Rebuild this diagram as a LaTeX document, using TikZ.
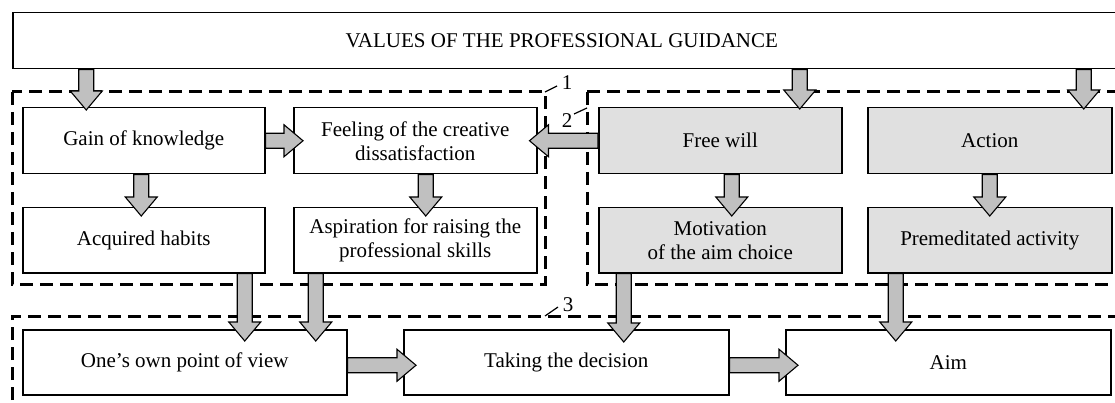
\documentclass[tikz,border=0pt]{standalone}
\usepackage{fontspec}
\setmainfont{Liberation Serif}
\usetikzlibrary{calc}
\definecolor{arrgray}{HTML}{C0C0C0}
\definecolor{boxgray}{HTML}{E0E0E0}
\tikzset{
  blockarr/.style={draw=black, fill=arrgray, line width=1.1pt, line join=miter},
  wbox/.style={draw=black, line width=1.5pt, anchor=north west, inner sep=0pt, align=center,
    font=\fontsize{21}{24}\selectfont},
  gbox/.style={wbox, fill=boxgray},
  dbox/.style={draw=black, line width=3pt, dash pattern=on 13pt off 7pt},
  leader/.style={draw=black, line width=1.2pt},
  numlab/.style={inner sep=0pt, font=\fontsize{21}{24}\selectfont}
}
\newcommand{\barrdown}[2]{\path[blockarr] let \p1=#1, \p2=#2 in
  (\x1-7.5pt,\y1) -- (\x1+7.5pt,\y1) -- (\x1+7.5pt,\y2+19pt) -- (\x1+16pt,\y2+19pt) --
  (\x1,\y2) -- (\x1-16pt,\y2+19pt) -- (\x1-7.5pt,\y2+19pt) -- cycle;}
\newcommand{\barrright}[2]{\path[blockarr] let \p1=#1, \p2=#2 in
  (\x1,\y1+7.5pt) -- (\x2-19pt,\y1+7.5pt) -- (\x2-19pt,\y1+16pt) -- (\x2,\y1) --
  (\x2-19pt,\y1-16pt) -- (\x2-19pt,\y1-7.5pt) -- (\x1,\y1-7.5pt) -- cycle;}
\newcommand{\barrleft}[2]{\path[blockarr] let \p1=#1, \p2=#2 in
  (\x1,\y1+7.5pt) -- (\x2+19pt,\y1+7.5pt) -- (\x2+19pt,\y1+16pt) -- (\x2,\y1) --
  (\x2+19pt,\y1-16pt) -- (\x2+19pt,\y1-7.5pt) -- (\x1,\y1-7.5pt) -- cycle;}
\begin{document}
\begin{tikzpicture}[x=1pt,y=-1pt]
\clip (0,0) rectangle (1115,403);
\fill[white] (0,0) rectangle (1115,403);
% dashed groups
\draw[dbox] (12,92) rectangle (545,284);
\draw[dbox] (587,92) -- (1140,92) (587,92) -- (587,284) -- (1140,284);
\draw[dbox] (12,420) -- (12,316) -- (1140,316);
% group labels
\coordinate (c1) at (545,92);
\coordinate (c2) at (587,108);
\coordinate (c3) at (545,316);
\node[numlab] (l1) at (567,83) {1};
\node[numlab] (l2) at (567,121) {2};
\node[numlab] (l3) at (568,305) {3};
\draw[leader] (c1) -- (557,86);
\draw[leader] (c2) -- (574,114);
\draw[leader] (c3) -- (558,307);
% nodes
\node[wbox, minimum width=1118pt, minimum height=56pt] (top) at (12,12) {\hspace*{-20pt}VALUES OF THE PROFESSIONAL GUIDANCE};
\node[wbox, minimum width=242pt, minimum height=66pt] (gain) at (22,107) {Gain of knowledge};
\node[wbox, minimum width=243pt, minimum height=66pt] (feel) at (293,107) {Feeling of the creative\\dissatisfaction};
\node[gbox, minimum width=243pt, minimum height=66pt] (free) at (598,107) {Free will};
\node[gbox, minimum width=244pt, minimum height=66pt] (action) at (867,107) {Action};
\node[wbox, minimum width=242pt, minimum height=65pt] (acq) at (22,207) {Acquired habits};
\node[wbox, minimum width=243pt, minimum height=65pt] (asp) at (293,207) {Aspiration for raising the\\professional skills};
\node[gbox, minimum width=243pt, minimum height=65pt] (mot) at (598,207) {Motivation\\of the aim choice};
\node[gbox, minimum width=244pt, minimum height=65pt] (prem) at (867,207) {Premeditated activity};
\node[wbox, minimum width=324pt, minimum height=65pt] (own) at (22,329) {One’s own point of view};
\node[wbox, minimum width=325pt, minimum height=65pt] (take) at (403,329) {Taking the decision};
\node[wbox, minimum width=325pt, minimum height=65pt] (aim) at (785,329) {Aim};
% arrows
\barrdown{($(top.south -| gain.north)+(-57.5,0)$)}{($(gain.north)+(0,3)$)}
\barrdown{($(top.south -| free.north)+(79.5,0)$)}{($(free.north)+(0,2)$)}
\barrdown{($(top.south -| action.north)+(94,0)$)}{($(action.north)+(0,2)$)}
\barrdown{($(gain.south)+(-2.5,0)$)}{($(acq.north)+(0,9)$)}
\barrdown{($(feel.south)+(10.5,0)$)}{($(asp.north)+(0,9)$)}
\barrdown{($(free.south)+(11.5,0)$)}{($(mot.north)+(0,9)$)}
\barrdown{(action.south)}{($(prem.north)+(0,9)$)}
\barrright{(gain.east)}{($(feel.west)+(10,0)$)}
\barrleft{(free.west)}{($(feel.east)+(-8,0)$)}
\barrdown{($(acq.south)+(101,0)$)}{($(own.north)+(0,12)$)}
\barrdown{($(asp.south)+(-99.5,0)$)}{($(own.north)+(0,12)$)}
\barrdown{($(mot.south)+(-96.5,0)$)}{($(take.north)+(0,13)$)}
\barrdown{($(prem.south)+(-94,0)$)}{($(aim.north)+(0,12)$)}
\barrright{($(own.east)+(0,3)$)}{($(take.west)+(13,0)$)}
\barrright{($(take.east)+(0,3)$)}{($(aim.west)+(13,0)$)}
\end{tikzpicture}
\end{document}
